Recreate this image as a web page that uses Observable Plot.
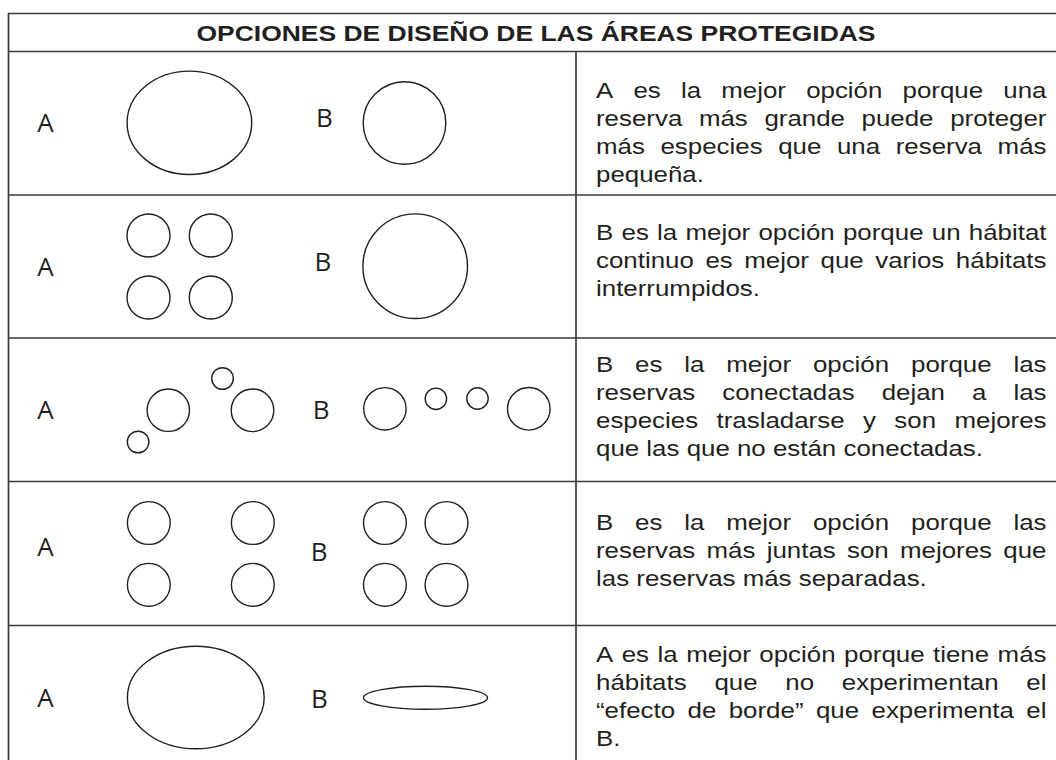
<!DOCTYPE html>
<html>
<head>
<meta charset="utf-8">
<script src="https://cdn.jsdelivr.net/npm/d3@7"></script>
<script src="https://cdn.jsdelivr.net/npm/@observablehq/plot@0.6"></script>
<style>
  html, body { margin: 0; padding: 0; background: #fff; }
  #chart svg { display: block; }
</style>
</head>
<body>
<div id="chart"></div>
<script>
// ---------------- DATA ----------------
const titleText = "OPCIONES DE DISEÑO DE LAS ÁREAS PROTEGIDAS";

// table ruling (diagram units = pixels of the 1056x760 picture)
const tableTop = 13;
const rowLines = [51, 194.5, 337.5, 481, 625];
const tableLeft = 8;
const columnDivider = 575.5;

// option labels: A at left, B in the middle of each row
const optionA = "A";
const optionB = "B";
const labelAX = [45, 45, 45, 45, 45];
const labelAY = [131.7, 275, 418.7, 555, 706];
const labelBX = [324, 322.5, 320.6, 318.7, 319];
const labelBY = [126.7, 270.7, 418, 560.7, 707.3];

// reserves drawn as circles: [cx, cy, r]
const circleReserves = [
  [404, 122.5, 41.3],
  [148, 235, 21.5], [210.3, 235, 21.5], [148, 297, 21.5], [210.3, 297, 21.5],
  [414.7, 265.7, 52.3],
  [222, 378, 10.8], [167.8, 409.7, 21.2], [252, 409.8, 21.3], [137.6, 441.5, 10.8],
  [384.4, 408.3, 21.2], [435.4, 398.3, 10.7], [477, 398, 10.7], [528.3, 408.3, 21.3],
  [148.3, 522.5, 21.4], [252.3, 522.5, 21.4], [148.3, 584.3, 21.4], [252.3, 584.3, 21.4],
  [384.4, 522.5, 21.4], [446, 522.5, 21.4], [384.4, 584.3, 21.4], [446, 584.3, 21.4]
];
// reserves drawn as ellipses: [cx, cy, rx, ry]
const ellipseReserves = [
  [188.9, 122.3, 62.3, 51.7],
  [195.3, 697, 68.4, 51.3],
  [425, 697.2, 62, 11.5]
];

// explanations, one list of lines per row
const descriptions = [
  ["A es la mejor opción porque una", "reserva más grande puede proteger", "más especies que una reserva más", "pequeña."],
  ["B es la mejor opción porque un hábitat", "continuo es mejor que varios hábitats", "interrumpidos."],
  ["B es la mejor opción porque las", "reservas conectadas dejan a las", "especies trasladarse y son mejores", "que las que no están conectadas."],
  ["B es la mejor opción porque las", "reservas más juntas son mejores que", "las reservas más separadas."],
  ["A es la mejor opción porque tiene más", "hábitats que no experimentan el", "“efecto de borde” que experimenta  el", "B."]
];
const firstBaselines = [97.3, 239.3, 371.7, 529.3, 661];

// ---------------- LAYOUT / STYLE ----------------
const W = 1056, H = 760;
const ink = "#231f20";
const ruleColor = "#3a3a3a";
const bodyFamily = "'Liberation Sans', Arial, Helvetica, sans-serif";
const bodySize = 22.5;
const stretch = 1.15;       // horizontal scale of the body type
const textLeft = 595.5, textRight = 1046, lineHeight = 28;
const titleSize = 22, titleWidth = 679, titleX = 535.5, titleY = 40.7;

// tables derived from the arrays
const hLines = [tableTop, ...rowLines].map(y => ({y, x1: tableLeft, x2: W}));
const vLines = [{x: tableLeft, y1: tableTop, y2: H}, {x: columnDivider, y1: rowLines[0], y2: H}];
const circles = circleReserves.map(([cx, cy, r]) => ({cx, cy, r}));
const ellipses = ellipseReserves.map(([cx, cy, rx, ry]) => ({cx, cy, rx, ry}));
const labelsA = labelAY.map((y, i) => ({x: labelAX[i], y, t: optionA}));
const labelsB = labelBY.map((y, i) => ({x: labelBX[i], y, t: optionB}));

// justified word layout
const ctx = document.createElement("canvas").getContext("2d");
ctx.font = `${bodySize}px 'Liberation Sans'`;
const measure = s => ctx.measureText(s).width * stretch;
const words = [];
descriptions.forEach((lines, r) => {
  lines.forEach((line, j) => {
    const ws = line.split(/\s+/).filter(Boolean);
    const widths = ws.map(measure);
    const isLast = j === lines.length - 1;
    const total = d3.sum(widths);
    const gap = (!isLast && ws.length > 1) ? (textRight - textLeft - total) / (ws.length - 1) : measure(" ");
    let x = textLeft;
    ws.forEach((w, k) => {
      words.push({text: w, x, y: firstBaselines[r] + j * lineHeight, width: widths[k]});
      x += widths[k] + gap;
    });
  });
});

function ellipseSymbol(aspect) {
  return {
    draw(context, size) {
      const ry = Math.sqrt(size / Math.PI), rx = ry * aspect, k = 0.5522847498;
      context.moveTo(rx, 0);
      context.bezierCurveTo(rx, ry * k, rx * k, ry, 0, ry);
      context.bezierCurveTo(-rx * k, ry, -rx, ry * k, -rx, 0);
      context.bezierCurveTo(-rx, -ry * k, -rx * k, -ry, 0, -ry);
      context.bezierCurveTo(rx * k, -ry, rx, -ry * k, rx, 0);
      context.closePath();
    }
  };
}

const chart = Plot.plot({
  width: W,
  height: H,
  margin: 0,
  x: {domain: [0, W], range: [0, W], axis: null},
  y: {domain: [0, H], range: [0, H], axis: null},
  r: {type: "linear", domain: [0, 100], range: [0, 100]},
  style: {background: "#fff", overflow: "visible"},
  marks: [
    Plot.ruleY(hLines, {y: "y", x1: "x1", x2: "x2", stroke: ruleColor, strokeWidth: 1.7}),
    Plot.ruleX(vLines, {x: "x", y1: "y1", y2: "y2", stroke: ruleColor, strokeWidth: 1.7}),
    Plot.text([titleText], {
      x: () => titleX, y: () => titleY, text: d => d,
      textAnchor: "middle", lineAnchor: "bottom",
      fontSize: titleSize, fontWeight: "bold", fontFamily: bodyFamily, fill: ink
    }),
    Plot.dot(circles, {x: "cx", y: "cy", r: "r", stroke: ink, strokeWidth: 1.4, fill: "none"}),
    ...ellipses.map(e => Plot.dot([e], {
      x: "cx", y: "cy", r: "ry", symbol: ellipseSymbol(e.rx / e.ry),
      stroke: ink, strokeWidth: 1.4, fill: "none"
    })),
    Plot.text(labelsA, {x: "x", y: "y", text: "t", textAnchor: "middle", lineAnchor: "bottom",
      fontSize: 26, fontWeight: 400, fontFamily: "'Open Sans', sans-serif", fill: ink}),
    Plot.text(labelsB, {x: "x", y: "y", text: "t", textAnchor: "middle", lineAnchor: "bottom",
      fontSize: 26, fontWeight: 400, fontFamily: "'Open Sans', sans-serif", fill: ink}),
    Plot.text(words, {x: "x", y: "y", text: "text", textAnchor: "start", lineAnchor: "bottom",
      fontSize: bodySize, fontFamily: bodyFamily, fill: ink})
  ]
});

document.getElementById("chart").appendChild(chart);

// stretch the body words and the title horizontally to their measured widths
chart.querySelectorAll(`g[font-size="${bodySize}"] text`).forEach((el, i) => {
  if (words[i]) {
    el.setAttribute("textLength", words[i].width.toFixed(2));
    el.setAttribute("lengthAdjust", "spacingAndGlyphs");
  }
});
chart.querySelectorAll(`g[font-size="${titleSize}"] text`).forEach(el => {
  el.setAttribute("textLength", titleWidth);
  el.setAttribute("lengthAdjust", "spacingAndGlyphs");
});
</script>
</body>
</html>
